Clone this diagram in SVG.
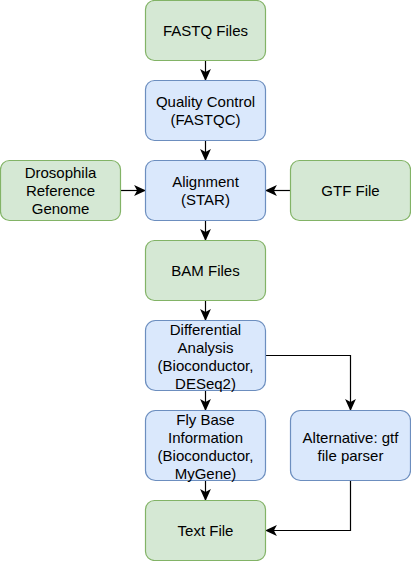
<svg xmlns="http://www.w3.org/2000/svg" width="411" height="561" viewBox="0 0 411 561">
<style>
.g{fill:#d5e8d4;stroke:#82b366;stroke-width:1.2}
.b{fill:#dae8fc;stroke:#6c8ebf;stroke-width:1.2}
text{font-family:"Liberation Sans",Arial,Helvetica,sans-serif;font-size:15px;fill:#000;text-anchor:middle}
.c{fill:none;stroke:#000;stroke-width:1.2}
</style>
<defs>
<marker id="a" markerUnits="userSpaceOnUse" markerWidth="12" markerHeight="12" viewBox="0 0 10 9" refX="9.5" refY="4.5" orient="auto">
<path d="M0,0 L10,4.5 L0,9 L2.5,4.5 Z" fill="#000"/>
</marker>
</defs>
<rect width="411" height="561" fill="#fff"/>
<g id="connectors">
<path class="c" d="M205.5,60.5 V80.5" marker-end="url(#a)"/>
<path class="c" d="M205.5,140.5 V160.5" marker-end="url(#a)"/>
<path class="c" d="M120.5,190.5 H145.5" marker-end="url(#a)"/>
<path class="c" d="M290.5,190.5 H265.5" marker-end="url(#a)"/>
<path class="c" d="M205.5,220.5 V240.5" marker-end="url(#a)"/>
<path class="c" d="M205.5,300.5 V320.5" marker-end="url(#a)"/>
<path class="c" d="M205.5,390.5 V410.5" marker-end="url(#a)"/>
<path class="c" d="M205.5,480.5 V500.5" marker-end="url(#a)"/>
<path class="c" d="M265.5,355.5 H350.5 V410.5" marker-end="url(#a)"/>
<path class="c" d="M350.5,480.5 V530.5 H265.5" marker-end="url(#a)"/>
</g>
<g id="fastq"><rect class="g" x="145.5" y="0.5" width="120" height="60" rx="9"/><text x="205.5" y="36">FASTQ Files</text></g>
<g id="qc"><rect class="b" x="145.5" y="80.5" width="120" height="60" rx="9"/><text x="205.5" y="107">Quality Control</text><text x="205.5" y="125">(FASTQC)</text></g>
<g id="genome"><rect class="g" x="0.5" y="160.5" width="120" height="60" rx="9"/><text x="60.5" y="178">Drosophila</text><text x="60.5" y="196">Reference</text><text x="60.5" y="214">Genome</text></g>
<g id="alignment"><rect class="b" x="145.5" y="160.5" width="120" height="60" rx="9"/><text x="205.5" y="187">Alignment</text><text x="205.5" y="205">(STAR)</text></g>
<g id="gtf"><rect class="g" x="290.5" y="160.5" width="120" height="60" rx="9"/><text x="350.5" y="196">GTF File</text></g>
<g id="bam"><rect class="g" x="145.5" y="240.5" width="120" height="60" rx="9"/><text x="205.5" y="276">BAM Files</text></g>
<g id="diff"><rect class="b" x="145.5" y="320.5" width="120" height="70" rx="10"/><text x="205.5" y="335">Differential</text><text x="205.5" y="353">Analysis</text><text x="205.5" y="371">(Bioconductor,</text><text x="205.5" y="389">DESeq2)</text></g>
<g id="flybase"><rect class="b" x="145.5" y="410.5" width="120" height="70" rx="10"/><text x="205.5" y="425">Fly Base</text><text x="205.5" y="443">Information</text><text x="205.5" y="461">(Bioconductor,</text><text x="205.5" y="479">MyGene)</text></g>
<g id="alt"><rect class="b" x="290.5" y="410.5" width="120" height="70" rx="10"/><text x="350.5" y="443">Alternative: gtf</text><text x="350.5" y="461">file parser</text></g>
<g id="textfile"><rect class="g" x="145.5" y="500.5" width="120" height="60" rx="9"/><text x="205.5" y="536">Text File</text></g>
</svg>
